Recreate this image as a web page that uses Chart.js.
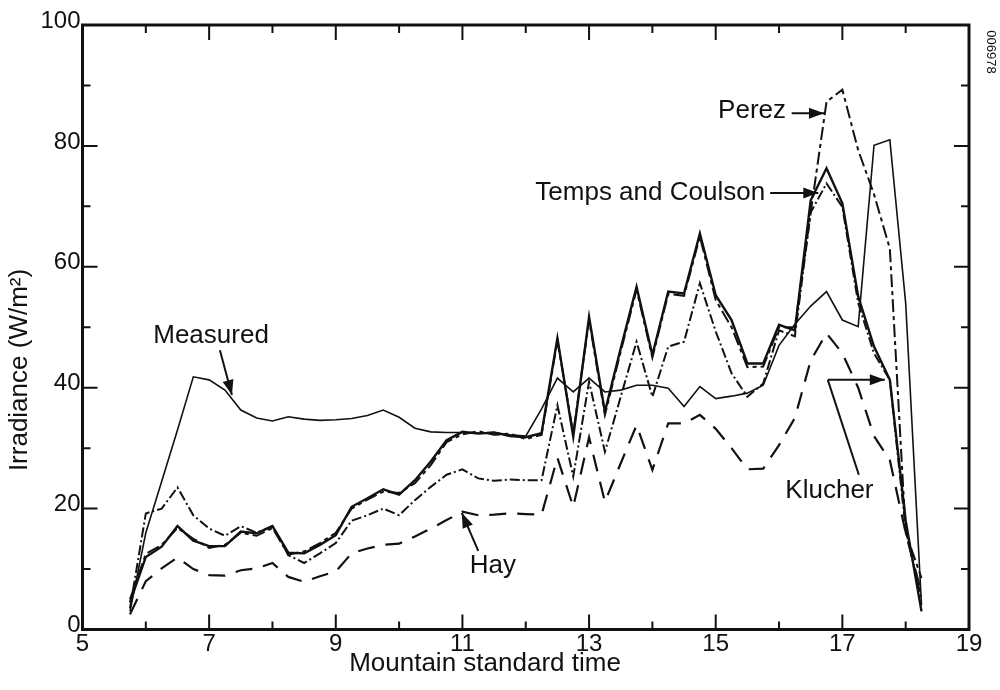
<!DOCTYPE html>
<html>
<head>
<meta charset="utf-8">
<title>Irradiance vs Mountain standard time</title>
<script src="https://cdn.jsdelivr.net/npm/chart.js@4.4.1/dist/chart.umd.min.js"></script>
<style>
  html, body { margin: 0; padding: 0; background: #fff; }
  canvas { display: block; }
</style>
</head>
<body>
<canvas id="irradianceChart" width="1000" height="690"></canvas>
<script>
// quarter-hour readings, Mountain standard time
const times = [5.75, 6, 6.25, 6.5, 6.75, 7, 7.25, 7.5, 7.75, 8,
    8.25, 8.5, 8.75, 9, 9.25, 9.5, 9.75, 10, 10.25, 10.5,
    10.75, 11, 11.25, 11.5, 11.75, 12, 12.25, 12.5, 12.75, 13,
    13.25, 13.5, 13.75, 14, 14.25, 14.5, 14.75, 15, 15.25, 15.5,
    15.75, 16, 16.25, 16.5, 16.75, 17, 17.25, 17.5, 17.75, 18, 18.25];

const measured = [3, 16, 24.5, 33, 41.8, 41.3, 39.6, 36.3, 35.0, 34.5,
    35.2, 34.8, 34.6, 34.7, 34.9, 35.4, 36.3, 35.1, 33.3, 32.7,
    32.6, 32.6, 32.5, 32.6, 32.2, 32.0, 36.5, 41.6, 39.3, 41.6,
    39.3, 39.6, 40.4, 40.4, 39.9, 36.9, 40.2, 38.2, 38.6, 39.1,
    40.4, 47, 50.5, 53.5, 55.9, 51.2, 50.1, 80.1, 81.0, 54, 4];

const tempsCoulson = [4.5, 12.0, 13.7, 17.1, 14.7, 13.8, 13.8, 16.2, 15.9, 17.1,
    12.7, 12.6, 14.0, 15.6, 20.3, 21.7, 23.2, 22.3, 24.7, 27.8,
    31.3, 32.7, 32.4, 32.6, 32.0, 31.8, 32.5, 48.2, 31.9, 51.7,
    36.0, 46.5, 56.7, 45.4, 55.9, 55.6, 65.5, 55.3, 51.2, 44.0,
    44.0, 50.4, 49.5, 71, 76.3, 70.5, 55.1, 46.8, 41.3, 18, 3];

const klucher = [3.5, 19.2, 20.0, 23.5, 18.9, 16.7, 15.5, 17.1, 16.0, 17.1,
    12.3, 11.0, 12.6, 14.3, 18.0, 18.9, 20.0, 18.9, 21.4, 23.6,
    25.6, 26.5, 25.0, 24.6, 24.8, 24.7, 24.7, 37.1, 25.3, 41.0,
    29.4, 38.5, 47.6, 38.5, 46.8, 47.6, 57.3, 49.3, 42.4, 38.5,
    40.7, 49.5, 48.5, 69, 73.8, 69.9, 54, 45.7, 41.3, 16.5, 5];

const perez = [5, 12.5, 14, 16.8, 15, 13.5, 14, 16, 15.5, 16.8,
    12.4, 12.9, 14.3, 16, 20, 21.5, 22.8, 22.6, 24.2, 27.2,
    31, 32.3, 32.8, 32.2, 32.4, 31.5, 32.2, 47.8, 32.5, 51.2,
    35.5, 46, 56.2, 45, 55.5, 55.2, 65, 54.5, 50, 43.4,
    43.5, 50, 50, 69, 87.3, 89.3, 79.3, 72, 63, 16, 8.5];

const hay = [2.5, 8, 10.1, 11.9, 10, 9.0, 8.9, 9.8, 10.1, 11.0,
    8.7, 7.9, 8.8, 9.6, 12.6, 13.4, 14.0, 14.2, 15.4, 16.7,
    18.1, 19.5, 18.9, 19.0, 19.2, 19.1, 19.0, 28.4, 20.3, 31.8,
    21.1, 27.5, 33.8, 26.4, 34.1, 34.1, 35.5, 33.2, 30.0, 26.5,
    26.6, 30.5, 35, 44.5, 49, 45.7, 40, 32, 28, 16, 6];

// labels written on the plot, placed in data units
const labels = [
    { text: "Measured", t: 7.03, v: 48.6, align: "center" },
    { text: "Hay", t: 11.48, v: 10.5, align: "center" },
    { text: "Perez", t: 16.11, v: 85.8, align: "right" },
    { text: "Temps and Coulson", t: 15.78, v: 72.2, align: "right" },
    { text: "Klucher", t: 16.1, v: 22.9, align: "left" }
];

const pointers = [
    { from: [7.17, 46.2], to: [7.36, 38.8], head: true },
    { from: [11.25, 13.0], to: [10.99, 19.3], head: true },
    { from: [16.2, 85.4], to: [16.71, 85.4], head: true },
    { from: [15.86, 72.2], to: [16.62, 72.2], head: true },
    { from: [17.26, 25.6], to: [16.77, 41.3], head: false },
    { from: [16.77, 41.3], to: [17.67, 41.3], head: true }
];

const ink = "#111";
const font = "'Liberation Sans', Arial, Helvetica, sans-serif";

function series(label, values, width, dash) {
    return {
        label: label,
        data: times.map((t, i) => ({ x: t, y: values[i] })),
        borderColor: ink,
        borderWidth: width,
        borderDash: dash,
        pointRadius: 0,
        tension: 0,
        fill: false
    };
}

function arrowHead(ctx, x1, y1, x2, y2) {
    const a = Math.atan2(y2 - y1, x2 - x1);
    const len = 15, half = 5.5;
    ctx.beginPath();
    ctx.moveTo(x2, y2);
    ctx.lineTo(x2 - len * Math.cos(a) + half * Math.sin(a), y2 - len * Math.sin(a) - half * Math.cos(a));
    ctx.lineTo(x2 - len * Math.cos(a) - half * Math.sin(a), y2 - len * Math.sin(a) + half * Math.cos(a));
    ctx.closePath();
    ctx.fill();
}

const frameAndNotes = {
    id: "frameAndNotes",
    afterDraw(chart) {
        const ctx = chart.ctx;
        const a = chart.chartArea;
        const x = chart.scales.x;
        const y = chart.scales.y;

        ctx.save();
        ctx.strokeStyle = ink;
        ctx.fillStyle = ink;

        // box round the plot
        ctx.lineWidth = 3;
        ctx.strokeRect(a.left, a.top, a.right - a.left, a.bottom - a.top);

        // tick marks pointing inwards on all four sides
        ctx.lineWidth = 2;
        ctx.beginPath();
        for (let t = 6; t < 19; t++) {
            const px = x.getPixelForValue(t);
            const len = t % 2 ? 15 : 8;
            ctx.moveTo(px, a.bottom); ctx.lineTo(px, a.bottom - len);
            ctx.moveTo(px, a.top); ctx.lineTo(px, a.top + len);
        }
        for (let v = 10; v < 100; v += 10) {
            const py = y.getPixelForValue(v);
            const len = v % 20 ? 8 : 15;
            ctx.moveTo(a.left, py); ctx.lineTo(a.left + len, py);
            ctx.moveTo(a.right, py); ctx.lineTo(a.right - len, py);
        }
        ctx.stroke();

        // pointers
        ctx.lineWidth = 2;
        for (const p of pointers) {
            const x1 = x.getPixelForValue(p.from[0]), y1 = y.getPixelForValue(p.from[1]);
            const x2 = x.getPixelForValue(p.to[0]), y2 = y.getPixelForValue(p.to[1]);
            ctx.beginPath();
            ctx.moveTo(x1, y1);
            ctx.lineTo(x2, y2);
            ctx.stroke();
            if (p.head) arrowHead(ctx, x1, y1, x2, y2);
        }

        // series names
        ctx.font = "26px " + font;
        ctx.textBaseline = "middle";
        for (const l of labels) {
            ctx.textAlign = l.align;
            ctx.fillText(l.text, x.getPixelForValue(l.t), y.getPixelForValue(l.v));
        }

        // axis titles
        ctx.textAlign = "center";
        ctx.fillText("Mountain standard time", 485, 664);
        ctx.save();
        ctx.translate(20, 370);
        ctx.rotate(-Math.PI / 2);
        ctx.fillText("Irradiance (W/m\u00B2)", 0, 0);
        ctx.restore();

        // figure number
        ctx.save();
        ctx.font = "13px " + font;
        ctx.translate(991, 52);
        ctx.rotate(Math.PI / 2);
        ctx.fillText("006978", 0, 0);
        ctx.restore();

        ctx.restore();
    }
};

new Chart(document.getElementById("irradianceChart"), {
    type: "line",
    data: {
        datasets: [
            series("Hay", hay, 2.2, [17, 11]),
            series("Klucher", klucher, 2, [10, 3, 2, 3]),
            series("Perez", perez, 2, [13, 4, 4, 4]),
            series("Temps and Coulson", tempsCoulson, 2.4, []),
            series("Measured", measured, 1.6, [])
        ]
    },
    options: {
        responsive: false,
        animation: false,
        layout: { padding: { left: 0, right: 31, top: 25, bottom: 0 } },
        plugins: {
            legend: { display: false },
            tooltip: { enabled: false }
        },
        scales: {
            x: {
                type: "linear",
                min: 5,
                max: 19,
                grid: { display: false, drawTicks: false },
                border: { display: false },
                ticks: {
                    stepSize: 1,
                    autoSkip: false,
                    maxRotation: 0,
                    padding: 0,
                    color: ink,
                    font: { family: font, size: 24 },
                    callback: v => (v % 2 ? v : "")
                },
                afterFit: s => { s.height = 60.5; }
            },
            y: {
                min: 0,
                max: 100,
                grid: { display: false, drawTicks: false },
                border: { display: false },
                ticks: {
                    stepSize: 10,
                    padding: 2,
                    labelOffset: -4,
                    color: ink,
                    font: { family: font, size: 24 },
                    callback: v => (v % 20 === 0 ? v : "")
                },
                afterFit: s => { s.width = 82.5; }
            }
        }
    },
    plugins: [frameAndNotes]
});
</script>
</body>
</html>
